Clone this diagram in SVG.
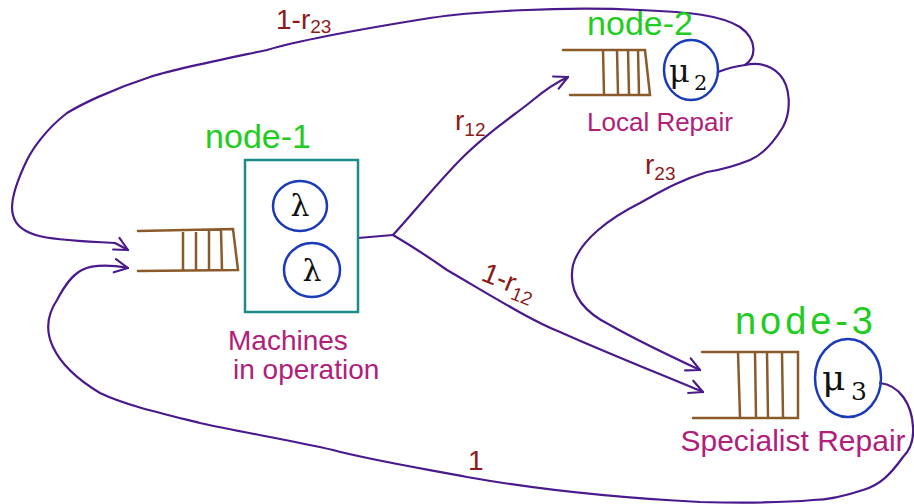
<svg xmlns="http://www.w3.org/2000/svg" width="914" height="504" viewBox="0 0 914 504">
<defs>
<style>
.q{fill:none;stroke:#8b5a2b;stroke-width:2.5;stroke-linecap:round}
.c{fill:none;stroke:#1a3ab8;stroke-width:2.5}
.box{fill:none;stroke:#1f8a8a;stroke-width:2.5}
.e{fill:none;stroke:#4a1a8c;stroke-width:2.2;stroke-linecap:round;stroke-linejoin:round}
.t{font-family:"Liberation Sans","DejaVu Sans",sans-serif}
.green{fill:#22cc22;font-size:34px}
.mag{fill:#b0207a;font-size:28px}
.lab{fill:#8b1a1a;font-size:28px}
.sym{fill:#111;font-size:30px;font-family:"DejaVu Serif","Liberation Serif",serif}
</style>
<marker id="ah" viewBox="0 0 12 12" refX="11" refY="6" markerWidth="16" markerHeight="16" markerUnits="userSpaceOnUse" orient="auto">
<path d="M1,1 L11,6 L1,11" fill="none" stroke="#4a1a8c" stroke-width="1.6" stroke-linecap="round" stroke-linejoin="round"/>
</marker>
</defs>
<rect width="914" height="504" fill="#fff"/>

<g id="connectors">
<path class="e" d="M358,238 L393,235"/>
<path class="e" d="M393,235 C420,205 440,180 463,157 C490,130 515,115 533,100 C545,90 555,83 568,77" marker-end="url(#ah)"/>
<path class="e" d="M393,235 C415,248 430,258 447,270 C490,295 530,320 560,332 C600,350 650,370 703,392" marker-end="url(#ah)"/>
<path class="e" d="M718,72 C728,68 738,66 745,65"/>
<path class="e" d="M745,65 C756,58 758,40 740,27 C720,15 690,12 640,10 C560,6 470,12 430,18 C380,26 300,40 267,50 C210,62 170,70 150,77 C110,90 80,105 67,113 C45,130 32,150 27,160 C15,185 10,205 13,215 C18,238 50,240 115,243 L128,250" marker-end="url(#ah)"/>
<path class="e" d="M745,65 C760,62 772,66 780,75 C790,86 792,110 783,127 C772,145 762,155 750,160 C735,166 720,170 707,172 C680,180 660,192 640,203 C610,218 580,240 573,265 C568,290 580,310 610,325 C640,342 670,356 700,370" marker-end="url(#ah)"/>
<path class="e" d="M880,383 C900,385 912,405 913,427 C914,440 910,450 903,457 C890,475 880,485 863,490 C845,496 830,500 813,500 C780,503 740,503 700,502 C620,498 540,490 467,477 C420,468 370,460 333,450 C290,440 240,432 200,423 C160,413 125,405 100,393 C75,378 60,362 53,347 C45,330 47,315 57,300 C65,285 72,275 82,270 C92,265 105,264 128,268" marker-end="url(#ah)"/>
</g>

<g id="node1">
<path class="q" d="M138,231 L233,229 L238,270 L138,271 M183,230 L183,270 M196,230 L196,270 M209,230 L209,270 M221,230 L222,270"/>
<rect class="box" x="245" y="160" width="113" height="152"/>
<ellipse class="c" cx="300" cy="206" rx="27" ry="25"/>
<ellipse class="c" cx="312" cy="270" rx="28" ry="27"/>
<text class="sym" x="300" y="216" text-anchor="middle">λ</text>
<text class="sym" x="312" y="281" text-anchor="middle">λ</text>
<text class="t green" x="258" y="148" text-anchor="middle">node-1</text>
<text class="t mag" x="228" y="350">Machines</text>
<text class="t mag" x="233" y="379">in operation</text>
</g>

<g id="node2">
<path class="q" d="M563,50 L645,50 L650,95 L570,95 M603,50 L604,94 M617,50 L618,94 M628,50 L629,94 M638,50 L639,94"/>
<ellipse class="c" cx="691" cy="70" rx="27" ry="30"/>
<text class="sym" x="669" y="82" style="font-size:32px">μ</text>
<text class="sym" x="694" y="90" style="font-size:21px">2</text>
<text class="t green" x="640" y="35" text-anchor="middle">node-2</text>
<text class="t mag" x="660" y="131" text-anchor="middle" style="font-size:26px">Local Repair</text>
</g>

<g id="node3">
<path class="q" d="M702,352 L798,352 L798,418 L693,418 M738,352 L740,417 M755,352 L756,417 M767,352 L768,417 M782,352 L783,417"/>
<ellipse class="c" cx="848" cy="378" rx="33" ry="39"/>
<text class="sym" x="822" y="390" style="font-size:36px">μ</text>
<text class="sym" x="851" y="400" style="font-size:25px">3</text>
<text class="t green" x="735" y="334" textLength="138" style="font-size:38px">node-3</text>
<text class="t mag" x="793" y="451" text-anchor="middle" style="font-size:30px">Specialist Repair</text>
</g>

<g id="labels">
<text class="t lab" x="455" y="130">r<tspan font-size="19" dy="6">12</tspan></text>
<text class="t lab" x="480" y="280" transform="rotate(22 480 280)">1-r<tspan font-size="19" dy="6">12</tspan></text>
<text class="t lab" x="645" y="174">r<tspan font-size="19" dy="6">23</tspan></text>
<text class="t lab" x="276" y="29">1-r<tspan font-size="19" dy="4">23</tspan></text>
<text class="t lab" x="468" y="470">1</text>
</g>
</svg>
